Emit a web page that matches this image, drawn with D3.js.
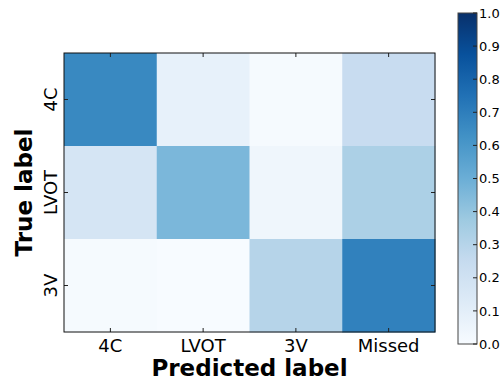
<!DOCTYPE html>
<html>
<head>
<meta charset="utf-8">
<script src="https://cdn.jsdelivr.net/npm/d3@7"></script>
<style>
  body { margin: 0; background: #fff; }
  svg { font-family: "DejaVu Sans", sans-serif; }
</style>
</head>
<body>
<div id="chart"></div>
<script>
const trueLabels = ["4C", "LVOT", "3V"];
const predLabels = ["4C", "LVOT", "3V", "Missed"];
// row = true label, column = predicted label (fractions of row)
const rate4C   = [0.66, 0.08, 0.01, 0.24];
const rateLVOT = [0.17, 0.46, 0.04, 0.33];
const rate3V   = [0.01, 0.00, 0.30, 0.69];
const matrix = [rate4C, rateLVOT, rate3V];
const cbarTicks = [0, 0.1, 0.2, 0.3, 0.4, 0.5, 0.6, 0.7, 0.8, 0.9, 1.0];

// matplotlib "Blues"
const bluesStops = ["#f7fbff", "#deebf7", "#c6dbef", "#9ecae1", "#6baed6", "#4292c6", "#2171b5", "#08519c", "#08306b"];
const color = d3.scaleLinear()
    .domain(d3.range(9).map(i => i / 8))
    .range(bluesStops)
    .interpolate(d3.interpolateRgb);

const W = 503, H = 385;
const plot = {left: 64, right: 435, top: 53, bottom: 332};

const svg = d3.select("#chart").append("svg")
    .attr("width", W).attr("height", H);

const x = d3.scaleBand().domain(predLabels).range([plot.left, plot.right]);
const y = d3.scaleBand().domain(trueLabels).range([plot.top, plot.bottom]);

const cells = [];
matrix.forEach((row, i) => row.forEach((v, j) => cells.push({t: trueLabels[i], p: predLabels[j], v})));

svg.append("g").selectAll("rect").data(cells).join("rect")
    .attr("x", d => x(d.p))
    .attr("y", d => y(d.t))
    .attr("width", x.bandwidth() + 0.5)
    .attr("height", y.bandwidth() + 0.5)
    .attr("fill", d => color(d.v));

// inward ticks on all sides
const tickLen = 4;
const tk = svg.append("g").attr("stroke", "#222").attr("stroke-width", 1);
predLabels.forEach(p => {
    const cx = x(p) + x.bandwidth() / 2;
    tk.append("line").attr("x1", cx).attr("x2", cx).attr("y1", plot.bottom).attr("y2", plot.bottom - tickLen);
    tk.append("line").attr("x1", cx).attr("x2", cx).attr("y1", plot.top).attr("y2", plot.top + tickLen);
});
trueLabels.forEach(t => {
    const cy = y(t) + y.bandwidth() / 2;
    tk.append("line").attr("y1", cy).attr("y2", cy).attr("x1", plot.left).attr("x2", plot.left + tickLen);
    tk.append("line").attr("y1", cy).attr("y2", cy).attr("x1", plot.right).attr("x2", plot.right - tickLen);
});

svg.append("rect")
    .attr("x", plot.left).attr("y", plot.top)
    .attr("width", plot.right - plot.left).attr("height", plot.bottom - plot.top)
    .attr("fill", "none").attr("stroke", "#111").attr("stroke-width", 1);

// tick labels
svg.append("g").selectAll("text").data(predLabels).join("text")
    .attr("x", d => x(d) + x.bandwidth() / 2)
    .attr("y", plot.bottom + 20)
    .attr("text-anchor", "middle")
    .attr("font-size", 18)
    .text(d => d);

svg.append("g").selectAll("text").data(trueLabels).join("text")
    .attr("transform", d => `translate(${plot.left - 7},${y(d) + y.bandwidth() / 2}) rotate(-90)`)
    .attr("text-anchor", "middle")
    .attr("font-size", 18)
    .text(d => d);

// axis titles
svg.append("text")
    .attr("x", (plot.left + plot.right) / 2).attr("y", 376)
    .attr("text-anchor", "middle")
    .attr("font-size", 23).attr("font-weight", "bold")
    .text("Predicted label");

svg.append("text")
    .attr("transform", `translate(32,${(plot.top + plot.bottom) / 2}) rotate(-90)`)
    .attr("text-anchor", "middle")
    .attr("font-size", 23).attr("font-weight", "bold")
    .text("True label");

// colorbar
const cb = {x: 458, w: 19, top: 13, bottom: 344};
const cy = d3.scaleLinear().domain([0, 1]).range([cb.bottom, cb.top]);
const defs = svg.append("defs");
const grad = defs.append("linearGradient").attr("id", "cbar")
    .attr("x1", "0%").attr("y1", "100%").attr("x2", "0%").attr("y2", "0%");
grad.selectAll("stop").data(bluesStops).join("stop")
    .attr("offset", (d, i) => (i / 8 * 100) + "%")
    .attr("stop-color", d => d);

svg.append("rect")
    .attr("x", cb.x).attr("y", cb.top)
    .attr("width", cb.w).attr("height", cb.bottom - cb.top)
    .attr("fill", "url(#cbar)")
    .attr("stroke", "#444").attr("stroke-width", 1);

const cbAxis = svg.append("g");
cbAxis.selectAll("line").data(cbarTicks).join("line")
    .attr("x1", cb.x + cb.w).attr("x2", cb.x + cb.w - 4)
    .attr("y1", d => cy(d)).attr("y2", d => cy(d))
    .attr("stroke", "#222");
cbAxis.selectAll("text").data(cbarTicks).join("text")
    .attr("x", cb.x + cb.w + 2)
    .attr("y", d => cy(d))
    .attr("dy", "0.36em")
    .attr("font-size", 13)
    .text(d3.format(".1f"));
</script>
</body>
</html>
